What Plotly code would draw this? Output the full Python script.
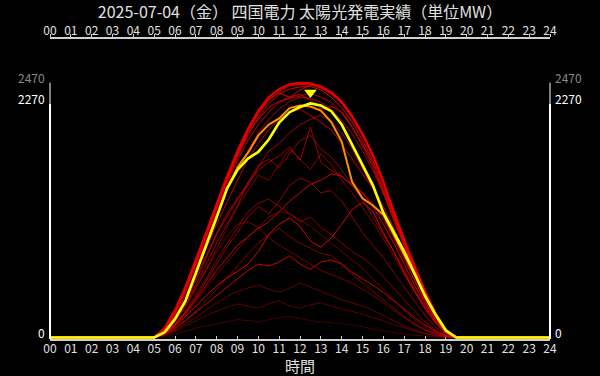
import plotly.graph_objects as go

# ---- data (MW, 30-minute steps from 05:00 to 19:30) ----
times = [5.0, 5.5, 6.0, 6.5, 7.0, 7.5, 8.0, 8.5, 9.0, 9.5, 10.0, 10.5, 11.0, 11.5, 12.0,
         12.5, 13.0, 13.5, 14.0, 14.5, 15.0, 15.5, 16.0, 16.5, 17.0, 17.5, 18.0, 18.5, 19.0, 19.5]
hour_ticks = ["00", "01", "02", "03", "04", "05", "06", "07", "08", "09", "10", "11", "12",
              "13", "14", "15", "16", "17", "18", "19", "20", "21", "22", "23", "24"]

today = [0, 50, 180, 355, 620, 895, 1170, 1445, 1625, 1735, 1800, 1920, 2085, 2185, 2235,
         2270, 2250, 2195, 2065, 1870, 1670, 1475, 1210, 1025, 835, 620, 405, 225, 70, 0]
yesterday = [0, 50, 175, 350, 610, 885, 1160, 1445, 1650, 1790, 1960, 2065, 2125, 2225, 2250,
             2240, 2200, 2090, 1900, 1510, 1350, 1280, 1190, 1000, 815, 610, 395, 215, 60, 0]

d_max = [0, 92, 265, 490, 745, 1020, 1295, 1565, 1810, 2025, 2200, 2330, 2410, 2455, 2470,
         2465, 2435, 2380, 2290, 2150, 1975, 1770, 1515, 1215, 940, 700, 450, 235, 72, 0]
c1 = [0, 88, 258, 480, 730, 1000, 1270, 1540, 1780, 1995, 2170, 2300, 2390, 2440, 2455,
      2450, 2420, 2360, 2270, 2130, 1960, 1755, 1500, 1205, 930, 690, 440, 230, 68, 0]
c2 = [0, 82, 245, 462, 712, 980, 1250, 1515, 1750, 1965, 2135, 2270, 2360, 2410, 2430,
      2435, 2400, 2330, 2230, 2090, 1915, 1710, 1460, 1180, 915, 670, 425, 220, 64, 0]
c3 = [0, 90, 260, 485, 738, 1010, 1280, 1550, 1795, 2010, 2180, 2310, 2370, 2330, 2400,
      2450, 2440, 2370, 2280, 2140, 1965, 1760, 1505, 1230, 950, 695, 445, 232, 70, 0]
c4 = [0, 80, 248, 468, 716, 990, 1260, 1525, 1770, 1975, 2115, 2230, 2290, 2330, 2360,
      2300, 2215, 2240, 2190, 2045, 1880, 1680, 1425, 1170, 905, 650, 410, 210, 62, 0]
c5 = [0, 76, 235, 448, 692, 955, 1220, 1485, 1720, 1910, 2065, 2185, 2280, 2320, 2340,
      2370, 2330, 2280, 2175, 2035, 1860, 1650, 1405, 1140, 885, 630, 398, 205, 58, 0]
c6 = [0, 72, 230, 438, 682, 935, 1180, 1425, 1630, 1810, 1985, 2115, 2215, 2290, 2330,
      2320, 2280, 2210, 2105, 1975, 1810, 1620, 1395, 1140, 895, 640, 402, 205, 60, 0]
p1 = [0, 70, 212, 405, 630, 865, 1100, 1320, 1525, 1730, 1880, 2015, 2115, 2185, 2215,
      2155, 2085, 2015, 1880, 1730, 1585, 1445, 1270, 1060, 835, 610, 385, 198, 56, 0]
p2 = [0, 62, 183, 346, 550, 775, 1000, 1170, 1340, 1475, 1650, 1810, 1880, 1985, 2065,
      2115, 2155, 2095, 1985, 1830, 1630, 1445, 1220, 995, 775, 560, 356, 183, 51, 0]
p3 = [0, 60, 172, 325, 508, 712, 915, 1100, 1280, 1505, 1670, 1730, 1650, 1780, 1910,
      1960, 1830, 1750, 1625, 1475, 1340, 1170, 995, 835, 650, 468, 305, 152, 41, 0]
p4 = [0, 56, 163, 305, 478, 660, 865, 1070, 1270, 1425, 1575, 1525, 1680, 1830, 1730,
      1630, 1780, 1680, 1525, 1405, 1260, 1120, 955, 795, 610, 437, 275, 142, 41, 0]
p5 = [0, 65, 195, 370, 580, 800, 1010, 1200, 1350, 1500, 1620, 1700, 1760, 1850, 1720,
      2040, 1700, 1620, 1560, 1480, 1400, 1300, 1150, 960, 750, 540, 345, 175, 50, 0]
k1 = [0, 41, 112, 203, 305, 407, 498, 580, 640, 712, 834, 997, 1100, 1160, 1078,
      936, 875, 966, 1098, 1240, 1312, 1220, 1017, 834, 630, 447, 285, 142, 41, 0]
k2 = [0, 36, 92, 163, 244, 325, 407, 488, 570, 650, 712, 692, 732, 793, 712,
      661, 732, 753, 712, 630, 570, 508, 437, 356, 275, 193, 122, 61, 15, 0]
k3 = [0, 46, 132, 254, 407, 570, 753, 915, 1068, 1220, 1302, 1342, 1271, 1200, 1119,
      1170, 1068, 997, 915, 834, 773, 692, 590, 478, 366, 254, 153, 71, 20, 0]
k4 = [0, 41, 122, 234, 366, 508, 651, 773, 895, 976, 1058, 1119, 1220, 1322, 1403,
      1485, 1525, 1586, 1566, 1475, 1403, 1271, 1098, 915, 712, 508, 325, 163, 46, 0]
k5 = [0, 20, 61, 112, 163, 214, 254, 295, 325, 305, 285, 325, 356, 305, 285,
      315, 336, 305, 275, 254, 224, 193, 163, 122, 92, 61, 36, 15, 5, 0]
k6 = [0, 25, 71, 132, 193, 264, 336, 397, 447, 478, 508, 468, 437, 478, 529,
      488, 447, 407, 366, 336, 305, 264, 214, 163, 112, 71, 41, 20, 5, 0]
k7 = [0, 31, 86, 163, 254, 356, 468, 570, 692, 814, 915, 997, 1058, 976, 915,
      865, 814, 793, 712, 610, 529, 447, 366, 285, 203, 132, 76, 36, 10, 0]
k8 = [0, 51, 153, 295, 468, 651, 834, 976, 1098, 1119, 1068, 966, 895, 834, 773,
      712, 651, 610, 570, 529, 468, 407, 336, 264, 193, 122, 71, 31, 10, 0]
k9 = [0, 10, 31, 61, 92, 112, 132, 153, 173, 163, 153, 173, 193, 203, 183,
      163, 153, 142, 132, 122, 102, 81, 61, 46, 31, 20, 10, 5, 0, 0]
k10 = [0, 46, 132, 244, 386, 549, 712, 875, 1017, 1170, 1271, 1200, 1322, 1475, 1546,
       1505, 1403, 1424, 1322, 1170, 1017, 895, 773, 630, 488, 346, 214, 102, 31, 0]
k11 = [0, 41, 122, 224, 346, 478, 610, 732, 865, 976, 1068, 1170, 1220, 1200, 1139,
       1078, 997, 915, 834, 753, 671, 570, 468, 366, 264, 173, 102, 46, 12, 0]

past_days = [k9, k5, k6, k8, k11, k7, k3, p4, p3, k2, k10, p5, c6, p2, k4, c5, p1, k1,
             c4, c2, c3, c1, d_max]
# styles (opacity of each past-day line, in drawing order)
past_alpha = [0.3, 0.4, 0.45, 0.5, 0.5, 0.55, 0.6, 0.6, 0.65, 0.9, 0.65, 0.7, 0.75, 0.75,
              0.9, 0.8, 0.85, 1.0, 0.9, 0.95, 1.0, 1.0, 1.0]

title_text = "2025-07-04（金） 四国電力 太陽光発電実績（単位MW）"
FONT = "Noto Sans CJK JP"


def full_day(vals):
    return [0.0] + list(times) + [24.0], [0] + list(vals) + [0]


max_all = max(max(s) for s in past_days + [yesterday, today])
max_today = max(today)
peak_idx = today.index(max_today)
peak_time = times[peak_idx]

fig = go.Figure()
for s, a in zip(past_days, past_alpha):
    x, y = full_day(s)
    w = 2.2 if s is d_max else 1
    fig.add_trace(go.Scatter(x=x, y=y, mode="lines",
                             line=dict(color=f"rgba(230,0,0,{a})", width=w),
                             hoverinfo="skip", showlegend=False))
x, y = full_day(yesterday)
fig.add_trace(go.Scatter(x=x, y=y, mode="lines", line=dict(color="#ff8c00", width=2),
                         showlegend=False))
x, y = full_day(today)
fig.add_trace(go.Scatter(x=x, y=y, mode="lines", line=dict(color="#ffff00", width=2.6),
                         showlegend=False))

M_T, M_B = 39, 37
Y_TOP = 2895
Y_BOT = -15
plot_h = 376 - M_T - M_B
mw_per_px = (Y_TOP - Y_BOT) / plot_h
fig.add_trace(go.Scatter(x=[peak_time], y=[max_today + 11 * mw_per_px], mode="markers",
                         marker=dict(symbol="triangle-down", size=11, color="#ffff00"),
                         showlegend=False, cliponaxis=False))
# invisible trace for top axis
fig.add_trace(go.Scatter(x=[0, 24], y=[None, None], xaxis="x2", showlegend=False,
                         hoverinfo="skip"))

axis_common = dict(range=[0, 24], tickmode="array", tickvals=list(range(25)),
                   ticktext=hour_ticks, showgrid=False, zeroline=False, showline=True,
                   linecolor="#d0d0d0", linewidth=2, tickcolor="#d0d0d0", ticklen=3,
                   tickwidth=1, tickfont=dict(color="#e0e0e0", size=12, family=FONT),
                   fixedrange=True, automargin=False)
fig.update_layout(
    width=600, height=376,
    paper_bgcolor="black", plot_bgcolor="black",
    margin=dict(l=50, r=50, t=M_T, b=M_B, autoexpand=False),
    font=dict(family=FONT, color="#e0e0e0"),
    title=dict(text=title_text, x=0.5, xanchor="center", y=1 - 12 / 376,
               yanchor="middle", yref="container",
               font=dict(size=16, color="#e0e0e0", family=FONT)),
    xaxis=dict(**axis_common, ticks="inside", side="bottom", layer="below traces",
               ticklabelstandoff=-2,
               title=dict(text="時間", font=dict(size=15, color="#e0e0e0", family=FONT),
                          standoff=6)),
    xaxis2=dict(**axis_common, ticks="outside", side="top", overlaying="x", anchor="y",
                ticklabelstandoff=-6),
    yaxis=dict(range=[Y_BOT, Y_TOP], visible=False, fixedrange=True),
    showlegend=False,
)

# vertical axis lines (white up to today's max, grey up to all-time max)
for xp in (0, 1):
    fig.add_shape(type="line", xref="paper", yref="y", x0=xp, x1=xp, y0=Y_BOT, y1=max_today,
                  line=dict(color="white", width=2))
    fig.add_shape(type="line", xref="paper", yref="y", x0=xp, x1=xp, y0=max_today, y1=max_all,
                  line=dict(color="#808080", width=2))

labels = [(0, "white"), (max_today, "white"), (max_all, "#8a8a8a")]
for val, col in labels:
    fig.add_annotation(x=0, xref="paper", y=val, yref="y", text=str(val), showarrow=False,
                       xanchor="right", xshift=-3, yanchor="middle", yshift=5,
                       font=dict(size=12, color=col, family=FONT))
    fig.add_annotation(x=1, xref="paper", y=val, yref="y", text=str(val), showarrow=False,
                       xanchor="left", xshift=3, yanchor="middle", yshift=5,
                       font=dict(size=12, color=col, family=FONT))

fig.write_html("out.html")
